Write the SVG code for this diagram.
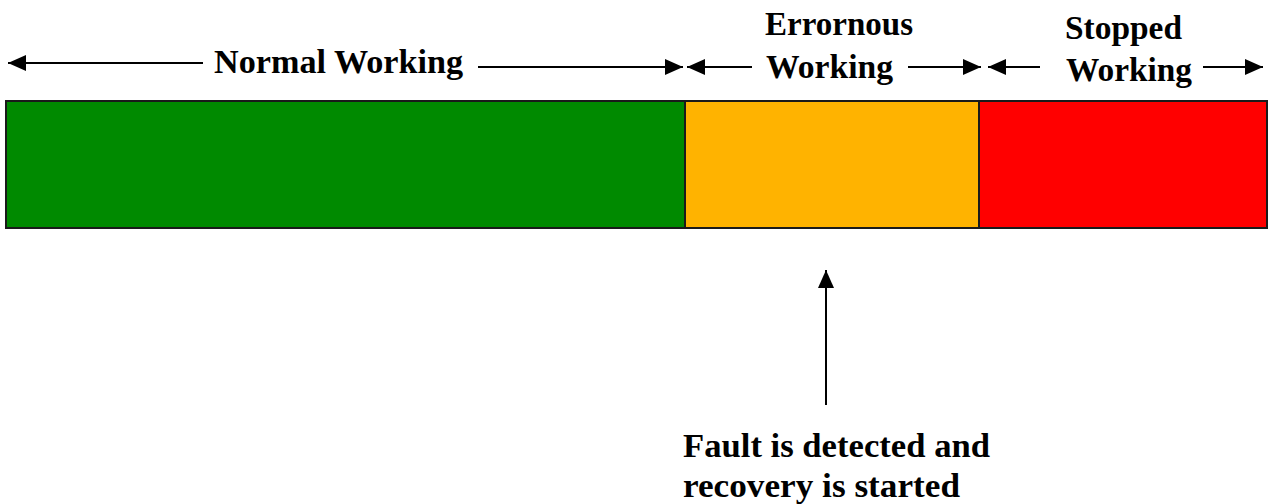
<svg xmlns="http://www.w3.org/2000/svg" width="1268" height="504" viewBox="0 0 1268 504">
  <style>
    .lbl { font-family: "Liberation Serif", "Times New Roman", serif; font-weight: bold; font-size: 34px; fill: #000; }
    .seg { stroke: #1a1a1a; stroke-width: 2; }
    .ln { stroke: #000; stroke-width: 2; fill: none; }
  </style>
  <defs>
    <marker id="ah" viewBox="0 0 18 16" refX="18" refY="8" markerWidth="18" markerHeight="16" markerUnits="userSpaceOnUse" orient="auto">
      <path d="M0,0 L18,8 L0,16 Z" fill="#000"/>
    </marker>
  </defs>
  <rect width="1268" height="504" fill="#fff"/>
  <g id="bar">
    <g id="normal-seg"><rect class="seg" x="6" y="101" width="679" height="127" fill="#008A00"/></g>
    <g id="erroneous-seg"><rect class="seg" x="685" y="101" width="294" height="127" fill="#FFB300"/></g>
    <g id="stopped-seg"><rect class="seg" x="979" y="101" width="288" height="127" fill="#FF0000"/></g>
  </g>
  <g id="labels">
    <g id="normal-label"><text class="lbl" x="214" y="73" textLength="249" lengthAdjust="spacingAndGlyphs">Normal Working</text></g>
    <g id="erroneous-label"><text class="lbl" x="765" y="35" textLength="148" lengthAdjust="spacingAndGlyphs">Errornous</text><text class="lbl" x="766" y="78" textLength="127" lengthAdjust="spacingAndGlyphs">Working</text></g>
    <g id="stopped-label"><text class="lbl" x="1065" y="39" textLength="117" lengthAdjust="spacingAndGlyphs">Stopped</text><text class="lbl" x="1066" y="81" textLength="126" lengthAdjust="spacingAndGlyphs">Working</text></g>
    <g id="fault-label"><text class="lbl" x="683" y="457" textLength="307" lengthAdjust="spacingAndGlyphs">Fault is detected and</text><text class="lbl" x="683" y="497" textLength="277" lengthAdjust="spacingAndGlyphs">recovery is started</text></g>
  </g>
  <g id="connectors">
    <line class="ln" x1="203" y1="63" x2="8" y2="63" marker-end="url(#ah)"/>
    <line class="ln" x1="478" y1="67" x2="683" y2="67" marker-end="url(#ah)"/>
    <line class="ln" x1="752" y1="67" x2="687" y2="67" marker-end="url(#ah)"/>
    <line class="ln" x1="908" y1="67" x2="981" y2="67" marker-end="url(#ah)"/>
    <line class="ln" x1="1040" y1="67" x2="988" y2="67" marker-end="url(#ah)"/>
    <line class="ln" x1="1203" y1="67" x2="1263" y2="67" marker-end="url(#ah)"/>
    <line class="ln" x1="826" y1="405" x2="826" y2="270" marker-end="url(#ah)"/>
  </g>
</svg>
